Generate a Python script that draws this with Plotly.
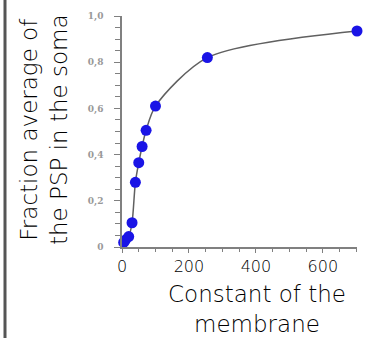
import plotly.graph_objects as go

# Data
membrane_constant = [5, 10, 20, 30, 40, 50, 60, 72, 100, 255, 702]
psp_fraction = [0.02, 0.03, 0.045, 0.105, 0.28, 0.365, 0.435, 0.505, 0.61, 0.82, 0.935]

curve_x = [0, 5, 10, 20, 30, 40, 50, 60, 72, 100, 255, 702]
curve_y = [0.0, 0.02, 0.03, 0.045, 0.105, 0.28, 0.365, 0.435, 0.505, 0.61, 0.82, 0.935]

x_tickvals = [0, 200, 400, 600]
x_ticktext = ["0", "200", "400", "600"]
y_tickvals = [0, 0.2, 0.4, 0.6, 0.8, 1.0]
y_ticktext = ["<b>0</b>", "<b>0,2</b>", "<b>0,4</b>", "<b>0,6</b>", "<b>0,8</b>", "<b>1,0</b>"]

W, H = 377, 338
L, R, T, B = 122, 20, 16, 91
pw, ph = W - L - R, H - T - B

def px(xp):
    return (xp - L) / pw

def py(yp):
    return (H - B - yp) / ph

fig = go.Figure()
fig.add_trace(go.Scatter(x=curve_x, y=curve_y, mode="lines", line=dict(color="#606060", width=1.5, shape="spline", smoothing=0.8),
                         hoverinfo="skip", cliponaxis=False))
fig.add_trace(go.Scatter(x=membrane_constant, y=psp_fraction, mode="markers",
                         marker=dict(color="#1a14e6", size=11), cliponaxis=False))

tfont = "DejaVu Sans"
fig.update_layout(
    width=W, height=H, showlegend=False,
    margin=dict(l=L, r=R, t=T, b=B),
    paper_bgcolor="white", plot_bgcolor="white",
    xaxis=dict(range=[0, 702], showgrid=False, zeroline=False, showline=True, linecolor="#808080", linewidth=1.5,
               tickvals=x_tickvals, ticktext=x_ticktext, ticks="outside", ticklen=4, tickcolor="#808080",
               tickfont=dict(family=tfont, size=16, color="#000", weight=200),
               minor=dict(dtick=50, ticks="outside", ticklen=3, tickcolor="#808080")),
    yaxis=dict(range=[0, 1.0], showgrid=False, zeroline=False, showline=True, linecolor="#808080", linewidth=1.5,
               tickvals=y_tickvals, ticktext=y_ticktext, ticks="outside", ticklen=6, tickcolor="#808080",
               ticklabelstandoff=9,
               tickfont=dict(family="DejaVu Serif", size=9, color="#999"),
               minor=dict(dtick=0.05, ticks="outside", ticklen=5, tickcolor="#808080")),
)

fig.add_annotation(text="Fraction average of<br>the PSP in the soma", xref="paper", yref="paper",
                   x=px(44), y=py(130), textangle=-90, showarrow=False,
                   font=dict(family=tfont, size=23, color="#000", weight=200), xanchor="center", yanchor="middle")
fig.add_annotation(text="Constant of the<br>membrane", xref="paper", yref="paper",
                   x=px(257), y=py(309), showarrow=False,
                   font=dict(family=tfont, size=23, color="#000", weight=200), xanchor="center", yanchor="middle")
fig.add_shape(type="line", xref="paper", yref="paper", x0=px(5), x1=px(5), y0=py(0), y1=py(H),
              line=dict(color="#555", width=3))

fig.write_html("out.html", config={"displayModeBar": False},
               post_script="document.body.style.margin='0';")
